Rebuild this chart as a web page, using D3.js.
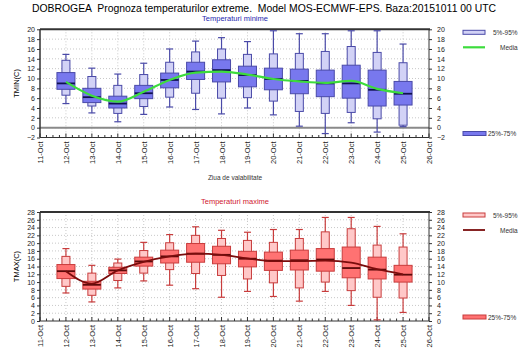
<!DOCTYPE html>
<html>
<head>
<meta charset="utf-8">
<script src="https://cdn.jsdelivr.net/npm/d3@7"></script>
<style>
  body { margin: 0; background: #fff; }
  svg { font-family: "Liberation Sans", Arial, sans-serif; }
  .grid line { stroke: #c8c8c8; stroke-dasharray: 1,2; }
</style>
</head>
<body>
<svg id="chart" width="525" height="350"></svg>
<script>
// days of October shown on the x axis
var days = [11, 12, 13, 14, 15, 16, 17, 18, 19, 20, 21, 22, 23, 24, 25, 26];
// days with forecasts
var fcDays = [12, 13, 14, 15, 16, 17, 18, 19, 20, 21, 22, 23, 24, 25];

// minimum temperature
var tminLo  = [4.9, 3.0, 1.2, 2.7, 4.2, 3.7, 2.8, 4.0, 2.6, 0.3, -1.2, 1.0, -0.9, 0.2];
var tminP5  = [6.6, 4.4, 2.9, 4.3, 6.2, 7.0, 6.0, 6.1, 5.4, 3.3, 2.9, 3.1, 1.8, 0.5];
var tminP25 = [7.8, 5.1, 4.0, 5.9, 8.1, 9.8, 9.3, 8.3, 7.7, 6.9, 6.3, 6.0, 4.4, 4.6];
var tminMed = [9.0, 6.2, 4.9, 7.0, 9.7, 11.4, 11.7, 10.7, 9.9, 9.5, 9.0, 9.0, 7.7, 6.9];
var tminP75 = [11.2, 8.0, 6.4, 8.6, 11.1, 13.3, 13.8, 12.5, 12.1, 11.9, 11.7, 12.7, 11.7, 9.4];
var tminP95 = [13.7, 10.4, 8.6, 10.8, 13.3, 15.4, 16.0, 14.9, 15.0, 15.1, 15.5, 16.5, 15.3, 13.2];
var tminHi  = [14.9, 12.1, 10.9, 13.1, 16.0, 17.6, 18.3, 17.5, 19.7, 19.1, 19.1, 19.7, 19.7, 17.0];
var tminMean = [9.3, 6.5, 5.3, 7.3, 9.7, 11.2, 11.4, 10.8, 9.9, 9.4, 9.1, 9.5, 7.9, 7.0];

// maximum temperature
var tmaxLo  = [7.2, 4.9, 8.5, 10.3, 9.2, 8.3, 6.1, 7.6, 6.3, 5.1, 7.6, 4.0, 0.3, 2.2];
var tmaxP5  = [8.9, 6.6, 10.4, 12.3, 13.2, 12.2, 11.7, 10.8, 9.8, 8.5, 10.0, 7.8, 6.1, 5.9];
var tmaxP25 = [10.9, 8.2, 12.2, 14.1, 14.9, 15.1, 14.7, 13.9, 13.0, 13.1, 12.8, 11.1, 10.8, 10.0];
var tmaxMed = [12.8, 9.3, 13.0, 15.3, 16.6, 17.3, 17.0, 16.0, 15.5, 15.6, 15.8, 13.6, 13.2, 11.9];
var tmaxP75 = [14.5, 10.2, 13.8, 16.4, 18.2, 19.9, 19.2, 17.9, 17.7, 18.2, 18.6, 19.0, 16.4, 14.3];
var tmaxP95 = [16.6, 12.3, 14.9, 18.1, 20.1, 22.0, 21.2, 20.7, 20.2, 21.2, 22.9, 23.7, 19.5, 19.0];
var tmaxHi  = [18.6, 14.3, 15.9, 20.2, 22.2, 24.2, 23.3, 22.8, 23.5, 23.5, 26.6, 26.6, 24.3, 22.4];
var tmaxMean = [12.8, 9.6, 13.0, 15.2, 16.6, 17.3, 17.0, 16.1, 15.4, 15.4, 15.5, 15.0, 13.3, 12.0];

var minTicks = [-2, 0, 2, 4, 6, 8, 10, 12, 14, 16, 18, 20];
var maxTicks = [0, 2, 4, 6, 8, 10, 12, 14, 16, 18, 20, 22, 24, 26, 28];

var svg = d3.select("#chart");

svg.append("text")
    .attr("x", 32).attr("y", 12)
    .style("font-size", "10.4px")
    .attr("xml:space", "preserve")
    .text("DOBROGEA  Prognoza temperaturilor extreme.  Model MOS-ECMWF-EPS. Baza:20151011 00 UTC");

var xScale = d3.scaleLinear().domain([11, 26]).range([40, 429]);

function drawPanel(p) {
  var y = d3.scaleLinear().domain(p.domain).range([p.bottom, p.top]);
  var g = svg.append("g");
  var rows = fcDays.map(function(d, i) {
    return {day: d, lo: p.lo[i], p5: p.p5[i], p25: p.p25[i], med: p.med[i],
            p75: p.p75[i], p95: p.p95[i], hi: p.hi[i], mean: p.mean[i]};
  });

  // panel title
  svg.append("text")
      .attr("x", 235).attr("y", p.top - 8)
      .attr("text-anchor", "middle")
      .style("font-size", "7.5px")
      .attr("fill", p.titleColor)
      .text(p.title);

  // grid
  var grid = g.append("g").attr("class", "grid");
  grid.selectAll("line.v").data(days.slice(1, -1)).enter().append("line")
      .attr("x1", function(d) { return xScale(d); })
      .attr("x2", function(d) { return xScale(d); })
      .attr("y1", p.top).attr("y2", p.bottom);
  grid.selectAll("line.h").data(p.ticks.slice(1, -1)).enter().append("line")
      .attr("x1", 40).attr("x2", 429)
      .attr("y1", function(d) { return y(d); })
      .attr("y2", function(d) { return y(d); });

  if (p.zeroLine) {
    g.append("line")
        .attr("x1", 40).attr("x2", 429)
        .attr("y1", y(0)).attr("y2", y(0))
        .attr("stroke", "#8a8a8a").attr("stroke-width", 2);
  }

  // frame
  g.append("line").attr("x1", 40).attr("x2", 430).attr("y1", p.top).attr("y2", p.top)
      .attr("stroke", "#333").attr("stroke-width", 2);
  g.append("line").attr("x1", 40).attr("x2", 40).attr("y1", p.top).attr("y2", p.bottom)
      .attr("stroke", "#333").attr("stroke-width", 1.5);
  g.append("line").attr("x1", 429).attr("x2", 429).attr("y1", p.top).attr("y2", p.bottom)
      .attr("stroke", "#333").attr("stroke-width", 1);
  g.append("line").attr("x1", 40).attr("x2", 429).attr("y1", p.bottom).attr("y2", p.bottom)
      .attr("stroke", "#333").attr("stroke-width", 1);

  // y axes
  var yl = d3.axisLeft(y).tickValues(p.ticks).tickSize(3).tickPadding(2);
  var yr = d3.axisRight(y).tickValues(p.ticks).tickSize(3).tickPadding(5);
  [svg.append("g").attr("transform", "translate(40,0)").call(yl),
   svg.append("g").attr("transform", "translate(429,0)").call(yr)].forEach(function(a) {
    a.select(".domain").remove();
    a.selectAll("text").style("font-size", "7px").attr("fill", "#222");
    a.selectAll("line").attr("stroke", "#333");
  });
  svg.select("g:last-child");

  svg.append("text")
      .attr("transform", "translate(19," + ((p.top + p.bottom) / 2) + ") rotate(-90)")
      .attr("text-anchor", "middle")
      .style("font-size", "7.5px")
      .text(p.yLabel);

  // x axis: minor ticks every 6 h, labels every day
  var minor = d3.range(11, 26.01, 0.25);
  g.selectAll("line.minor").data(minor).enter().append("line")
      .attr("x1", function(d) { return xScale(d); })
      .attr("x2", function(d) { return xScale(d); })
      .attr("y1", p.bottom)
      .attr("y2", function(d) { return p.bottom - (d % 1 === 0 ? 4 : 2.5); })
      .attr("stroke", "#333");
  var xAxis = d3.axisBottom(xScale).tickValues(days).tickSize(0)
      .tickFormat(function(d) { return d + "-Oct"; });
  var xa = svg.append("g").attr("transform", "translate(0," + p.bottom + ")").call(xAxis);
  xa.select(".domain").remove();
  xa.selectAll("text")
      .style("font-size", "7.5px")
      .attr("fill", "#222")
      .attr("transform", "rotate(-90)")
      .attr("text-anchor", "end")
      .attr("x", -4).attr("y", 0).attr("dy", "0.33em");

  // boxes
  var box = g.selectAll("g.box").data(rows).enter().append("g")
      .attr("transform", function(d) { return "translate(" + xScale(d.day) + ",0)"; });
  box.append("line")
      .attr("y1", function(d) { return y(d.lo); })
      .attr("y2", function(d) { return y(d.hi); })
      .attr("stroke", p.stroke).attr("stroke-width", 1.2);
  [["lo"], ["hi"]].forEach(function(k) {
    box.append("line")
        .attr("x1", -3.5).attr("x2", 3.5)
        .attr("y1", function(d) { return y(d[k[0]]); })
        .attr("y2", function(d) { return y(d[k[0]]); })
        .attr("stroke", p.stroke).attr("stroke-width", 1.2);
  });
  box.append("rect")
      .attr("x", -4).attr("width", 8)
      .attr("y", function(d) { return y(d.p95); })
      .attr("height", function(d) { return y(d.p5) - y(d.p95); })
      .attr("fill", p.light).attr("stroke", p.stroke).attr("stroke-width", 1);
  box.append("rect")
      .attr("x", -9).attr("width", 18)
      .attr("y", function(d) { return y(d.p75); })
      .attr("height", function(d) { return y(d.p25) - y(d.p75); })
      .attr("fill", p.dark).attr("stroke", p.stroke).attr("stroke-width", 1);
  box.append("line")
      .attr("x1", -9).attr("x2", 9)
      .attr("y1", function(d) { return y(d.med); })
      .attr("y2", function(d) { return y(d.med); })
      .attr("stroke", p.medColor).attr("stroke-width", 1.8);

  // mean line
  var line = d3.line()
      .x(function(d) { return xScale(d.day); })
      .y(function(d) { return y(d.mean); })
      .curve(d3.curveMonotoneX);
  g.append("path")
      .datum(rows)
      .attr("d", line)
      .attr("fill", "none")
      .attr("stroke", p.meanColor)
      .attr("stroke-width", p.meanWidth);

  // legend
  var lg = svg.append("g");
  lg.append("rect").attr("x", 463).attr("y", p.top + 1).attr("width", 22).attr("height", 4)
      .attr("fill", p.light).attr("stroke", p.stroke);
  lg.append("text").attr("x", 493).attr("y", p.top + 5.5)
      .style("font-size", "6.5px").attr("fill", "#333").text("5%-95%");
  lg.append("line").attr("x1", 463).attr("x2", 485)
      .attr("y1", p.top + 18).attr("y2", p.top + 18)
      .attr("stroke", p.meanColor).attr("stroke-width", p.meanWidth);
  lg.append("text").attr("x", 500).attr("y", p.top + 20.5)
      .style("font-size", "6.5px").attr("fill", "#333").text("Media");
  lg.append("rect").attr("x", 463).attr("y", p.bottom - 6).attr("width", 23).attr("height", 4)
      .attr("fill", p.dark).attr("stroke", p.stroke);
  lg.append("text").attr("x", 488).attr("y", p.bottom - 1.5)
      .style("font-size", "6.5px").attr("fill", "#333").text("25%-75%");
}

drawPanel({
  title: "Temperaturi minime", titleColor: "#2828b0", yLabel: "TMIN(C)",
  domain: [-2, 20], top: 29.3, bottom: 137.5, ticks: minTicks, zeroLine: true,
  lo: tminLo, p5: tminP5, p25: tminP25, med: tminMed, p75: tminP75, p95: tminP95,
  hi: tminHi, mean: tminMean,
  stroke: "#4a4aa8", light: "#d2d2f6", dark: "#7878ee", medColor: "#101050",
  meanColor: "#3ddc3d", meanWidth: 2.2
});

drawPanel({
  title: "Temperaturi maxime", titleColor: "#d02030", yLabel: "TMAX(C)",
  domain: [0, 28], top: 212, bottom: 321, ticks: maxTicks, zeroLine: false,
  lo: tmaxLo, p5: tmaxP5, p25: tmaxP25, med: tmaxMed, p75: tmaxP75, p95: tmaxP95,
  hi: tmaxHi, mean: tmaxMean,
  stroke: "#c83c3c", light: "#ffc8c8", dark: "#ff7272", medColor: "#5a0a0a",
  meanColor: "#7a0c0c", meanWidth: 1.8
});

svg.append("text")
    .attr("x", 235).attr("y", 180)
    .attr("text-anchor", "middle")
    .style("font-size", "6.5px")
    .attr("fill", "#333")
    .text("Ziua de valabilitate");
</script>
</body>
</html>
